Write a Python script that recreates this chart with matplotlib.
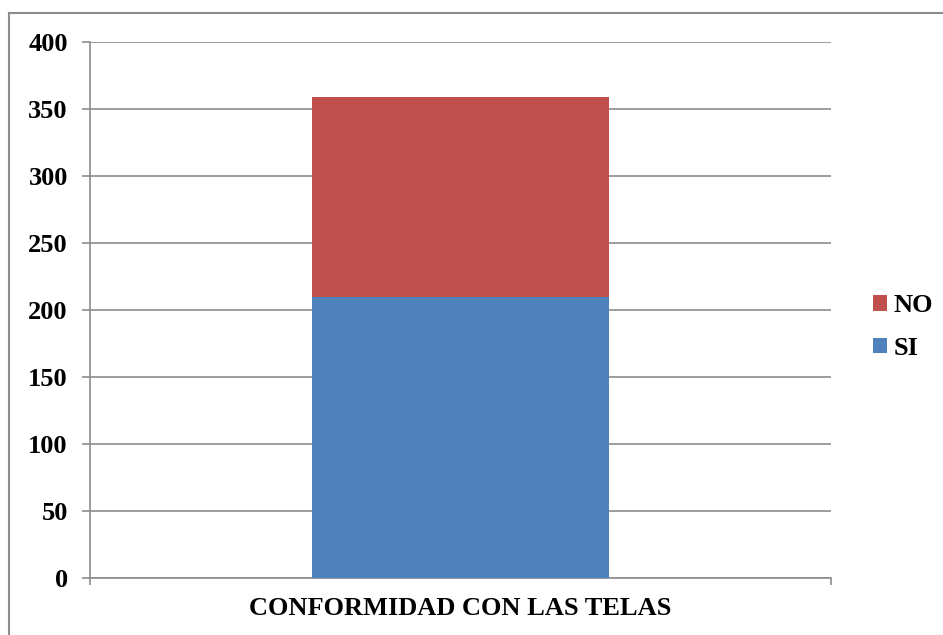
import matplotlib.pyplot as plt
from matplotlib.lines import Line2D

# Conformidad con las telas (respuestas)
category = ['CONFORMIDAD CON LAS TELAS']
si_values = [210]
no_values = [149]
y_ticks = [0, 50, 100, 150, 200, 250, 300, 350, 400]

plt.rcParams['font.family'] = ['Liberation Serif', 'DejaVu Serif']
plt.rcParams['font.weight'] = 'bold'

fig = plt.figure(figsize=(9.43, 6.35), dpi=100)
ax = fig.add_axes([90 / 943, 57 / 635, 741 / 943, 536 / 635])

grey = '#8c8c8c'
x = range(len(category))
ax.bar(x, si_values, width=0.4, color='#4F81BD', label='SI', zorder=3)
ax.bar(x, no_values, width=0.4, bottom=si_values, color='#C0504D', label='NO', zorder=3)

ax.set_xlim(-0.5, 0.5)
ax.set_ylim(0, 400)
ax.set_yticks(y_ticks)
ax.set_yticklabels([str(v) for v in y_ticks], fontsize=19, fontweight='bold')
ax.yaxis.grid(True, color=grey, linewidth=1.2, zorder=0)

ax.set_xticks(list(x))
ax.set_xticklabels(category, fontsize=19, fontweight='bold')
ax.set_xticks([-0.5, 0.5], minor=True)
ax.tick_params(axis='x', which='major', length=0, pad=14)
ax.tick_params(axis='x', which='minor', length=5, color=grey, width=1.2)
ax.tick_params(axis='y', length=6, color=grey, width=1.2, pad=10)

for side in ['top', 'right']:
    ax.spines[side].set_visible(False)
for side in ['left', 'bottom']:
    ax.spines[side].set_color(grey)
    ax.spines[side].set_linewidth(1.2)

handles, labels = ax.get_legend_handles_labels()
fig.legend(handles[::-1], labels[::-1], loc='center left',
           bbox_to_anchor=(873 / 943, 1 - 327 / 635), frameon=False,
           prop={'size': 19, 'weight': 'bold'}, borderpad=0, borderaxespad=0,
           handlelength=0.53, handleheight=0.53, handletextpad=0.25,
           labelspacing=0.75)

# outer frame of the chart area
fig.add_artist(Line2D([9 / 943, 1], [1 - 13 / 635, 1 - 13 / 635], color=grey, linewidth=1.5))
fig.add_artist(Line2D([9 / 943, 9 / 943], [0, 1 - 13 / 635], color=grey, linewidth=1.5))

fig.savefig('out.png', dpi=100)
